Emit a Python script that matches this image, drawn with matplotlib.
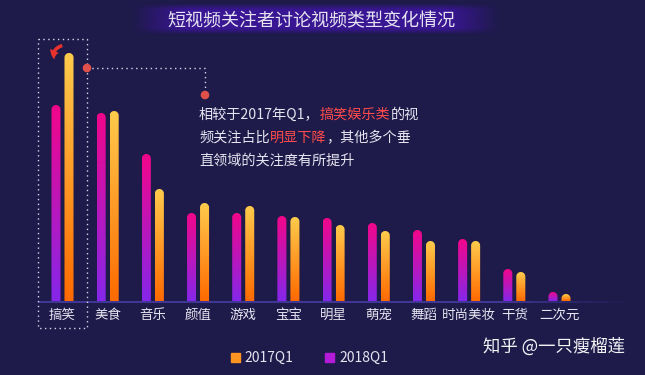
"""
Short-video follower interest by category, 2017Q1 vs 2018Q1.
Saves out.png (645x375).
"""
import numpy as np
import matplotlib.pyplot as plt
from matplotlib.path import Path
from matplotlib.patches import PathPatch, Rectangle, FancyArrowPatch, Circle
from matplotlib.colors import LinearSegmentedColormap, to_rgb

plt.rcParams["font.family"] = ["Noto Sans CJK SC", "DejaVu Sans"]

CATEGORIES = ["搞笑", "美食", "音乐", "颜值", "游戏", "宝宝",
              "明星", "萌宠", "舞蹈", "时尚美妆", "干货", "二次元"]
Q1_2018 = [196, 188, 147, 88, 88, 85, 83, 78, 71, 62, 32, 9]
Q1_2017 = [248, 190, 112, 98, 95, 84, 76, 70, 60, 60, 29, 7]
SERIES_LABELS = ["2017Q1", "2018Q1"]
TITLE = "短视频关注者讨论视频类型变化情况"
NOTE_LINES = [
    [("相较于2017年Q1，", "w"), ("搞笑娱乐类", "r"), ("的视", "w")],
    [("频关注占比", "w"), ("明显下降", "r"), ("，其他多个垂", "w")],
    [("直领域的关注度有所提升", "w")],
]
WATERMARK = "知乎 @一只瘦榴莲"

BG = "#1e1a4a"
WHITE = "#e6e4f0"
RED = "#ff4b4b"
PINK_TOP, PINK_BOTTOM = "#f2068a", "#8527ea"
ORANGE_TOP, ORANGE_BOTTOM = "#ffcb4c", "#ff6a00"

W, H = 645, 375
STEP = 45.18      # px between categories
X0 = 62.5         # px centre of first category
BASE = 301        # px baseline
BAR_W = 0.2
OFFSET = 0.144


def grad_bar(ax, xc, h, c_top, c_bottom, ry=4.5):
    rx = BAR_W / 2
    top = h - ry
    t = np.linspace(np.pi, 0, 40)
    verts = [(xc - rx, 0), (xc - rx, top)]
    verts += [(xc + rx * np.cos(a), top + ry * np.sin(a)) for a in t]
    verts += [(xc + rx, 0), (xc - rx, 0)]
    patch = PathPatch(Path(verts), facecolor="none", edgecolor="none")
    ax.add_patch(patch)
    cmap = LinearSegmentedColormap.from_list("g", [c_bottom, c_top])
    grad = np.linspace(0, 1, 256).reshape(-1, 1)
    im = ax.imshow(grad, cmap=cmap, origin="lower", aspect="auto",
                   extent=[xc - rx, xc + rx, 0, h], interpolation="bilinear")
    im.set_clip_path(patch)


fig = plt.figure(figsize=(W / 100, H / 100), dpi=100, facecolor=BG)

# overlay in pixel coordinates for decorations
ov = fig.add_axes([0, 0, 1, 1])
ov.set_xlim(0, W)
ov.set_ylim(H, 0)
ov.axis("off")

# title band with soft edges
xs = np.linspace(0, 1, 400)
ys = np.linspace(0, 1, 40)
fx = np.clip(np.minimum(xs, 1 - xs) / 0.14, 0, 1)
fy = np.clip(np.minimum(ys, 1 - ys) / 0.2, 0, 1)
band = np.zeros((40, 400, 4))
band[..., :3] = to_rgb("#3b1698")
band[..., 3] = np.outer(fy, fx) * 0.95
ov.imshow(band, extent=[132, 500, 35, 3], aspect="auto", zorder=1)
ov.text(311, 21, TITLE, color=WHITE, fontsize=13, ha="center", va="center", zorder=2)

# main chart axes: 1 data unit = 1 px vertically
ax = fig.add_axes([40 / W, (H - BASE) / H, 560 / W, 261 / H], zorder=2)
ax.set_facecolor("none")
ax.axis("off")

for i, (v18, v17) in enumerate(zip(Q1_2018, Q1_2017)):
    grad_bar(ax, i - OFFSET, v18, PINK_TOP, PINK_BOTTOM)
    grad_bar(ax, i + OFFSET, v17, ORANGE_TOP, ORANGE_BOTTOM)
    ax.text(i, -14, CATEGORIES[i], color=WHITE, fontsize=9.7,
            ha="center", va="center", clip_on=False)

ax.set_xlim((40 - X0) / STEP, (600 - X0) / STEP)
ax.set_ylim(0, 261)

# baseline, fading to the right
for k in range(39):
    x_a = 38 + k * 15
    alpha = 1.0 if k < 30 else 1.0 - (k - 30) / 9
    ov.plot([x_a, x_a + 15], [BASE + 0.5, BASE + 0.5], color="#4a3fae",
            lw=1.1, alpha=max(alpha, 0), solid_capstyle="butt", zorder=3)

# dotted highlight box and connector
dot_kw = dict(color="#d8d6ec", lw=1.0, ls=(0, (1, 2.5)), zorder=3)
ov.plot([38, 87, 87, 38, 38], [39, 39, 328, 328, 39], **dot_kw)
ov.plot([87, 205, 205], [68, 68, 95], **dot_kw)
ov.add_patch(Circle((87, 68), 3.6, color="#e0504a", zorder=4))
ov.add_patch(Circle((205, 95), 3.6, color="#e0504a", zorder=4))
ov.add_patch(FancyArrowPatch((65, 45), (55, 62), connectionstyle="arc3,rad=0.6",
                             arrowstyle="simple,head_width=7,head_length=6,tail_width=2.5",
                             color="#e8322e", lw=0, zorder=5))

# annotation text with highlighted segments
for row, parts in enumerate(NOTE_LINES):
    y = 115 + row * 23
    prev = None
    for txt, col in parts:
        c = RED if col == "r" else WHITE
        if prev is None:
            prev = ov.text(199, y, txt, color=c, fontsize=10.2, va="center", ha="left", zorder=5)
        else:
            prev = ov.annotate(txt, xy=(1, 0.5), xycoords=prev, color=c, fontsize=10.2,
                               va="center", ha="left", zorder=5)

# legend
ov.add_patch(Rectangle((231, 353), 8.5, 9, color="#ff9420", zorder=4))
ov.text(244, 357.5, SERIES_LABELS[0], color=WHITE, fontsize=10, va="center", zorder=4)
ov.add_patch(Rectangle((325, 353), 8.5, 9, color="#b31bd8", zorder=4))
ov.text(339, 357.5, SERIES_LABELS[1], color=WHITE, fontsize=10, va="center", zorder=4)

# watermark
ov.text(483, 347, WATERMARK, color="#f4f4f8", fontsize=12.5, va="center", zorder=4)

fig.savefig("out.png", dpi=100, facecolor=BG)
